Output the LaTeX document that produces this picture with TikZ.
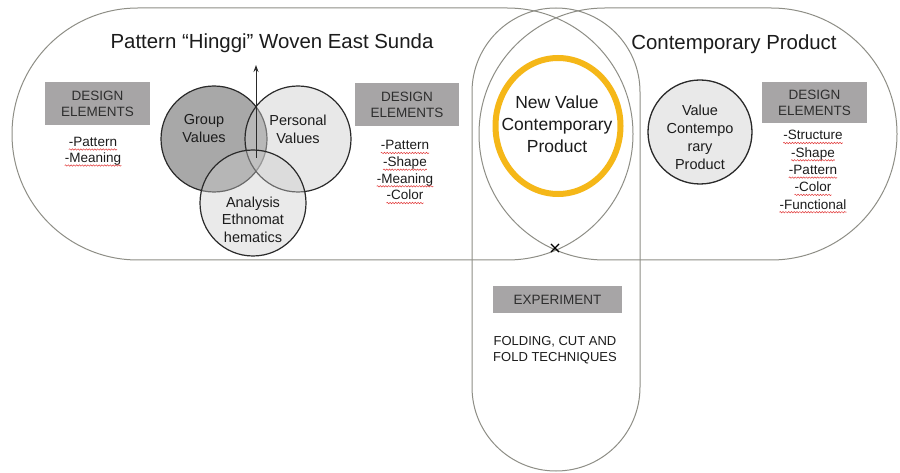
\documentclass[tikz,border=0pt]{standalone}
\usepackage{fontspec}
\setmainfont{Liberation Sans}
\usetikzlibrary{shapes.misc,shapes.geometric,arrows.meta,decorations.pathmorphing}
\definecolor{outline}{HTML}{8E8E86}
\definecolor{boxfill}{HTML}{A7A5A6}
\definecolor{boxtext}{HTML}{2E2E2E}
\definecolor{textc}{HTML}{1C1C1C}
\definecolor{ringyellow}{HTML}{F5B718}
\definecolor{groupfill}{HTML}{A8A8A8}
\definecolor{lightfill}{HTML}{CCCCCC}
\definecolor{valfill}{HTML}{E9E9E9}
\definecolor{circline}{HTML}{2A2A2A}
\definecolor{spellred}{HTML}{E23A3A}
\newlength\dashw
\newlength\wA
\newlength\wB
\newlength\wS
\newcommand\listline[4]{%
  \node[listtext] (#1) at (#2,#3) {-#4};
  \draw[spellwave] ([xshift=\dashw,yshift=-3pt]#1.base west) -- ([yshift=-3pt]#1.base east);}
\begin{document}
\begin{tikzpicture}[x=1pt,y=-1pt,
  stadium/.style={draw=outline, line width=1pt},
  titletext/.style={font=\fontsize{20.4}{24}\selectfont, text=textc, inner sep=0pt, anchor=base},
  listtext/.style={font=\fontsize{13.5}{16}\selectfont, text=textc, inner sep=0pt, anchor=base},
  graybox/.style={fill=boxfill, text=boxtext, font=\fontsize{13.5}{16}\selectfont, align=center, inner sep=0pt},
  venn/.style={circle, draw=circline, line width=1.2pt, minimum size=106pt, inner sep=0pt},
  circtext/.style={font=\fontsize{14.5}{18}\selectfont, text=textc, align=center, inner sep=0pt},
  spellwave/.style={draw=spellred, line width=0.5pt, decorate, decoration={snake, amplitude=0.7pt, segment length=2.8pt}}
]
\useasboundingbox (0,0) rectangle (900,473);
\fill[white] (0,0) rectangle (900,473);

% stadiums
\node[stadium, rounded corners=125.9pt, minimum width=621pt, minimum height=252pt] (leftst) at (322.5,134) {};
\node[stadium, rounded corners=125.9pt, minimum width=418pt, minimum height=252pt] (rightst) at (688,134) {};
\node[stadium, rounded corners=83.9pt, minimum width=168pt, minimum height=463pt] (vertst) at (556,239.5) {};

% titles
\settowidth{\wA}{\fontsize{20.4}{24}\selectfont Pattern “}
\settowidth{\wB}{\fontsize{20.4}{24}\selectfont Pattern “Hinggi}
\settowidth{\wS}{\fontsize{20.4}{24}\selectfont Sunda}
\settowidth{\dashw}{\fontsize{13.5}{16}\selectfont -}
\node[titletext] (title) at (272,49) {Pattern “Hinggi” Woven East Sunda};
\draw[spellwave] ([xshift=\wA,yshift=-3.5pt]title.base west) -- ([xshift=\wB,yshift=-3.5pt]title.base west);
\draw[spellwave] ([xshift=-\wS,yshift=-3.5pt]title.base east) -- ([yshift=-3.5pt]title.base east);
\node[titletext] (ctitle) at (734,50) {Contemporary Product};

% design element boxes
\node[graybox, minimum width=105pt, minimum height=43pt] (de1) at (97.5,104) {DESIGN\\ELEMENTS};
\node[graybox, minimum width=104pt, minimum height=43pt] (de2) at (407,104.5) {DESIGN\\ELEMENTS};
\node[graybox, minimum width=105pt, minimum height=41pt] (de3) at (814.5,102.5) {DESIGN\\ELEMENTS};

% lists
\listline{la}{93}{146.5}{Pattern}
\listline{lb}{93}{162.5}{Meaning}
\listline{ma}{405}{150}{Pattern}
\listline{mb}{405}{166.7}{Shape}
\listline{mc}{405}{183.3}{Meaning}
\listline{md}{405}{200}{Color}
\listline{ra}{813}{140}{Structure}
\listline{rb}{813}{157.3}{Shape}
\listline{rc}{813}{174.6}{Pattern}
\listline{rd}{813}{191.9}{Color}
\listline{re}{813}{209.2}{Functional}

% Venn circles
\node[venn, fill=groupfill] (group) at (214,139) {};
\node[venn, fill=lightfill, fill opacity=0.45] (personal) at (298,139) {};
\node[venn, fill=lightfill, fill opacity=0.4] (analysis) at (253,203) {};
\node[circtext] (grouptext) at (204,129) {Group\\Values};
\node[circtext] (personaltext) at (298,129) {Personal\\Values};
\node[circtext, font=\fontsize{14.5}{17.5}\selectfont] (analysistext) at (253,219.5) {Analysis\\Ethnomat\\hematics};
\coordinate (arrS) at (256,158);
\coordinate (arrE) at (256,65);
\draw[-{Stealth[length=7pt,width=5pt]}, line width=0.9pt, draw=circline] (arrS) -- (arrE);

% new value ring
\node[ellipse, draw=ringyellow, line width=6pt, minimum width=125pt, minimum height=136pt, inner sep=0pt] (newval) at (558,126) {};
\node[font=\fontsize{17.5}{22}\selectfont, text=textc, align=center, inner sep=0pt] (newvaltext) at (557,124) {New Value\\Contemporary\\Product};

% value contemporary product circle
\node[circle, draw=circline, line width=1.3pt, fill=valfill, minimum size=104pt, inner sep=0pt] (valcirc) at (700,132) {};
\node[circtext] (valtext) at (700,137) {Value\\Contempo\\rary\\Product};

% cross mark
\node[cross out, draw=black, line width=1.1pt, minimum size=7pt, inner sep=0pt] (xmark) at (555,248) {};

% experiment
\node[graybox, minimum width=129pt, minimum height=27pt] (exper) at (557.5,299.5) {EXPERIMENT};
\node[font=\fontsize{13}{16}\selectfont, text=textc, align=center, inner sep=0pt] (fold) at (555,350) {FOLDING, CUT AND\\FOLD TECHNIQUES};
\end{tikzpicture}
\end{document}
